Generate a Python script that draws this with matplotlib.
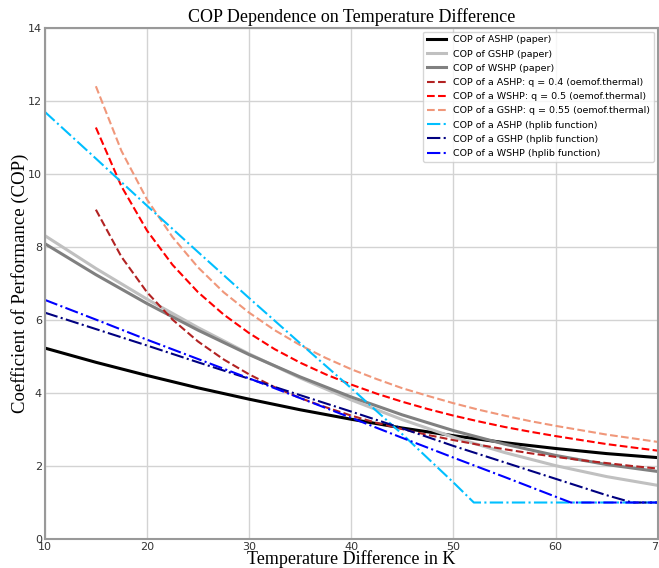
import numpy as np
import matplotlib
matplotlib.use("Agg")
from matplotlib import pyplot as plt

# temperature difference steps (K)
dt_paper = [10, 15, 20, 25, 30, 35, 40, 45, 50, 55, 60, 65, 70]
cop_ashp_paper = [5.23, 4.84, 4.48, 4.14, 3.83, 3.54, 3.28, 3.04, 2.83, 2.64, 2.48, 2.34, 2.23]
cop_gshp_paper = [8.31, 7.41, 6.57, 5.79, 5.07, 4.41, 3.81, 3.27, 2.79, 2.37, 2.01, 1.71, 1.47]
cop_wshp_paper = [8.09, 7.24, 6.45, 5.72, 5.05, 4.44, 3.89, 3.40, 2.97, 2.60, 2.29, 2.04, 1.85]

dt_oemof = [15, 17.5, 20, 22.5, 25, 27.5, 30, 32.5, 35, 37.5, 40, 42.5, 45,
            47.5, 50, 52.5, 55, 57.5, 60, 62.5, 65, 67.5, 70]
cop_ashp_oemof = [9.02, 7.73, 6.76, 6.01, 5.41, 4.92, 4.51, 4.16, 3.86, 3.61, 3.38, 3.18,
                  3.01, 2.85, 2.71, 2.58, 2.46, 2.35, 2.25, 2.16, 2.08, 2.00, 1.93]
cop_wshp_oemof = [11.27, 9.66, 8.45, 7.51, 6.76, 6.15, 5.64, 5.20, 4.83, 4.51, 4.23, 3.98,
                  3.76, 3.56, 3.38, 3.22, 3.07, 2.94, 2.82, 2.71, 2.60, 2.51, 2.42]
cop_gshp_oemof = [12.40, 10.63, 9.30, 8.27, 7.44, 6.76, 6.20, 5.72, 5.31, 4.96, 4.65, 4.38,
                  4.13, 3.92, 3.72, 3.54, 3.38, 3.23, 3.10, 2.98, 2.86, 2.76, 2.66]

dt_ashp_hplib = [10, 15, 20, 25, 30, 35, 40, 45, 50, 52, 55, 60, 65, 70]
cop_ashp_hplib = [11.70, 10.42, 9.13, 7.86, 6.60, 5.36, 4.13, 2.87, 1.55, 1.0, 1.0, 1.0, 1.0, 1.0]
dt_gshp_hplib = [10, 15, 20, 25, 30, 35, 40, 45, 50, 55, 60, 65, 67.5, 70]
cop_gshp_hplib = [6.20, 5.75, 5.30, 4.84, 4.39, 3.94, 3.49, 3.03, 2.55, 2.10, 1.65, 1.20, 1.0, 1.0]
dt_wshp_hplib = [10, 15, 20, 25, 30, 35, 40, 45, 50, 55, 60, 61.5, 65, 70]
cop_wshp_hplib = [6.55, 6.01, 5.46, 4.93, 4.40, 3.86, 3.32, 2.77, 2.23, 1.70, 1.16, 1.0, 1.0, 1.0]

fig = plt.figure(figsize=(6.59, 5.68), dpi=100)
ax = fig.add_axes([0.068, 0.051, 0.930, 0.900])

ax.plot(dt_paper, cop_ashp_paper, color='black', lw=2.2, label='COP of ASHP (paper)')
ax.plot(dt_paper, cop_gshp_paper, color='#c0c0c0', lw=2.2, label='COP of GSHP (paper)')
ax.plot(dt_paper, cop_wshp_paper, color='#808080', lw=2.2, label='COP of WSHP (paper)')
ax.plot(dt_oemof, cop_ashp_oemof, color='#b22222', ls='--', lw=1.5,
        label='COP of a ASHP: q = 0.4 (oemof.thermal)')
ax.plot(dt_oemof, cop_wshp_oemof, color='red', ls='--', lw=1.5,
        label='COP of a WSHP: q = 0.5 (oemof.thermal)')
ax.plot(dt_oemof, cop_gshp_oemof, color='#f0977a', ls='--', lw=1.5,
        label='COP of a GSHP: q = 0.55 (oemof.thermal)')
ax.plot(dt_ashp_hplib, cop_ashp_hplib, color='deepskyblue', ls='-.', lw=1.5,
        label='COP of a ASHP (hplib function)')
ax.plot(dt_gshp_hplib, cop_gshp_hplib, color='navy', ls='-.', lw=1.5,
        label='COP of a GSHP (hplib function)')
ax.plot(dt_wshp_hplib, cop_wshp_hplib, color='blue', ls='-.', lw=1.5,
        label='COP of a WSHP (hplib function)')

ax.set_xlim(10, 70)
ax.set_ylim(0, 14)
ax.set_xticks([10, 20, 30, 40, 50, 60, 70])
ax.set_yticks([0, 2, 4, 6, 8, 10, 12, 14])
ax.tick_params(length=0, pad=2, labelsize=8, labelcolor='#333333')
ax.grid(True, color='#d3d3d3', lw=1)
for s in ax.spines.values():
    s.set_color('#999999')
    s.set_linewidth(1.5)

ax.set_title('COP Dependence on Temperature Difference', family='Liberation Serif',
             fontsize=13, pad=4)
ax.set_xlabel('Temperature Difference in K', family='Liberation Serif', fontsize=13)
ax.set_ylabel('Coefficient of Performance (COP)', family='Liberation Serif', fontsize=13.5)
ax.xaxis.set_label_coords(0.5, -0.021)
ax.yaxis.set_label_coords(-0.025, 0.5)

ax.legend(loc='upper right', fontsize=6.8, handlelength=2, labelspacing=0.55,
          borderaxespad=0.4, fancybox=True)

fig.savefig('out.png', dpi=100)
